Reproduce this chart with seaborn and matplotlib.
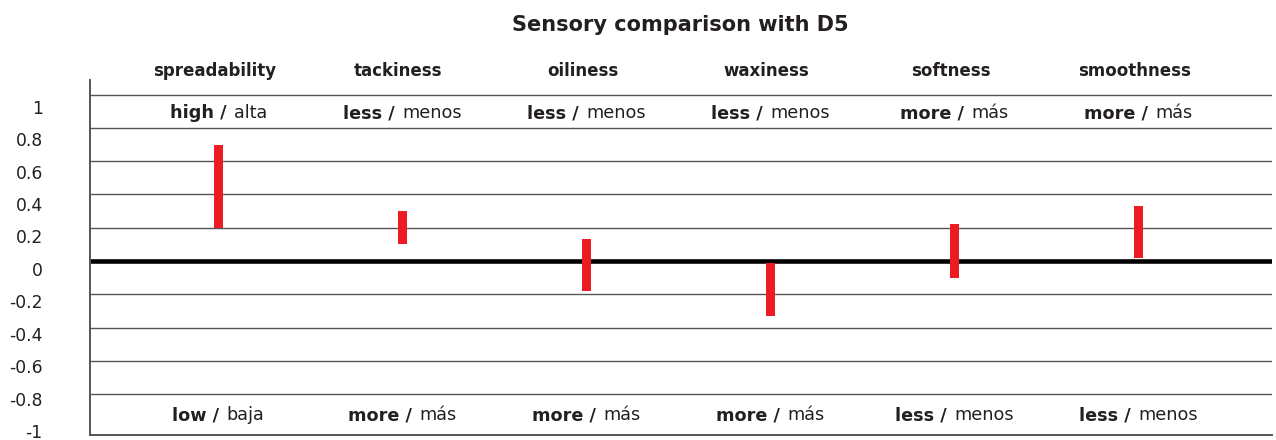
import matplotlib
matplotlib.use("Agg")
import matplotlib.pyplot as plt
from matplotlib.transforms import offset_copy
import seaborn as sns
import pandas as pd

# ---------------- data ----------------
title = "Sensory comparison with D5"
categories = ["spreadability", "tackiness", "oiliness", "waxiness", "softness", "smoothness"]
low_values = [0.20, 0.10, -0.18, -0.33, -0.10, 0.02]
high_values = [0.70, 0.30, 0.13, -0.01, 0.22, 0.33]
top_bold = ["high /", "less /", "less /", "less /", "more /", "more /"]
top_regular = ["alta", "menos", "menos", "menos", "más", "más"]
bottom_bold = ["low /", "more /", "more /", "more /", "less /", "less /"]
bottom_regular = ["baja", "más", "más", "más", "menos", "menos"]
tick_values = [1.0, 0.8, 0.6, 0.4, 0.2, 0.0, -0.2, -0.4, -0.6, -0.8, -1.0]
tick_labels = ["1", "0.8", "0.6", "0.4", "0.2", "0", "-0.2", "-0.4", "-0.6", "-0.8", "-1"]
grid_values = [1.0, 0.8, 0.6, 0.4, 0.2, -0.2, -0.4, -0.6, -0.8]

# ---------------- style ----------------
sns.set_theme(style="white")
plt.rcParams["font.family"] = ["DejaVu Sans"]
RED = "#ED1C24"
INK = "#231F20"
GRID = "#555555"

W, H = 1276, 440
fig = plt.figure(figsize=(W / 100, H / 100), dpi=100)
ax = fig.add_axes([90 / W, (H - 435) / H, (1272 - 90) / W, (435 - 80) / H])

df = pd.DataFrame({"category": categories, "low": low_values, "high": high_values})
df["span"] = df["high"] - df["low"]
sns.barplot(data=df, x="category", y="span", order=categories, color=RED,
            saturation=1, width=0.045, linewidth=0, ax=ax, zorder=3)
for patch, lo in zip(ax.patches, df["low"]):
    patch.set_y(lo)

ax.set_xlim(-0.698, 5.726)
ax.set_ylim(-1.046, 1.088)

for v in grid_values:
    ax.axhline(v, color=GRID, lw=1.0, zorder=1)
ax.axhline(0, color="black", lw=3.3, zorder=2)

ax.set_xticks([])
ax.set_yticks([])
ax.set_xlabel("")
ax.set_ylabel("")
for side in ["top", "right"]:
    ax.spines[side].set_visible(False)
ax.spines["left"].set_color(GRID)
ax.spines["left"].set_linewidth(1.4)
ax.spines["bottom"].set_color(GRID)
ax.spines["bottom"].set_linewidth(1.4)

# tick labels on their own (slightly different) scale, as in the reference
ax2 = ax.twinx()
ax2.set_ylim(-1.0235, 1.1645)
ax2.yaxis.tick_left()
ax2.set_yticks(tick_values, tick_labels)
ax2.tick_params(axis="y", length=0, pad=34, labelsize=12.3, labelcolor=INK)
for s in ax2.spines.values():
    s.set_visible(False)

# title
fig.text(680 / W, 1 - 30.7 / H, title, ha="center", va="baseline",
         weight="bold", size=15, color=INK)

# category headers (sit a few pixels left of the bars, as in the reference)
head_tr = offset_copy(ax.transData, fig=fig, x=-4, y=0, units="dots")
for i, cat in enumerate(categories):
    ax.text(i, 1.114, cat, ha="center", va="baseline", weight="bold",
            size=12, color=INK, clip_on=False, transform=head_tr)

renderer = fig.canvas.get_renderer()
GAP = 7


def mixed(x, y, bold, regular, size=12.7):
    t1 = ax.text(x, y, bold, ha="left", va="baseline", weight="bold",
                 size=size, color=INK, clip_on=False)
    t2 = ax.text(x, y, regular, ha="left", va="baseline",
                 size=size, color=INK, clip_on=False)
    w1 = t1.get_window_extent(renderer).width
    w2 = t2.get_window_extent(renderer).width
    total = w1 + GAP + w2
    t1.set_transform(offset_copy(ax.transData, fig=fig, x=-total / 2, y=0, units="dots"))
    t2.set_transform(offset_copy(ax.transData, fig=fig, x=-total / 2 + w1 + GAP, y=0, units="dots"))


for i in range(len(categories)):
    mixed(i, 0.857, top_bold[i], top_regular[i])
    mixed(i, -0.957, bottom_bold[i], bottom_regular[i])

fig.savefig("out.png", dpi=100)
